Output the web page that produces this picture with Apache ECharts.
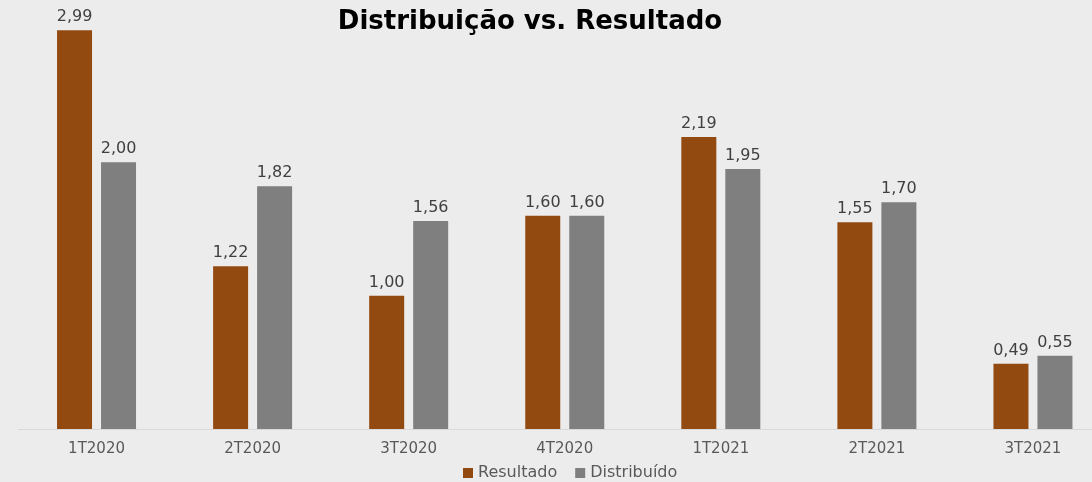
<!DOCTYPE html>
<html>
<head>
<meta charset="utf-8">
<script src="https://cdn.jsdelivr.net/npm/echarts@6/dist/echarts.min.js"></script>
<style>
  html, body { margin: 0; padding: 0; background: #ececec; overflow: hidden; }
  /* a última categoria ultrapassa a borda direita, como no original */
  #chart { width: 1111px; height: 482px; }
</style>
</head>
<body>
<div id="chart"></div>
<script>
// categorias e valores (R$ por ação)
const categorias = ['1T2020', '2T2020', '3T2020', '4T2020', '1T2021', '2T2021', '3T2021'];
const resultado = [2.99, 1.22, 1.00, 1.60, 2.19, 1.55, 0.49];
const distribuido = [2.00, 1.82, 1.56, 1.60, 1.95, 1.70, 0.55];

const fonte = '"DejaVu Sans", sans-serif';

// rótulo com vírgula decimal
function rotulo(p) {
    return p.value.toFixed(2).replace('.', ',');
}

const chart = echarts.init(document.getElementById('chart'));

chart.setOption({
    backgroundColor: '#ececec',
    animation: false,
    title: {
        text: 'Distribuição vs. Resultado',
        left: 525,
        textAlign: 'center',
        top: 4,
        textStyle: { fontFamily: fonte, fontSize: 26, fontWeight: 'bold', color: '#000' }
    },
    legend: {
        top: 460,
        left: 458,
        itemWidth: 10,
        itemHeight: 10,
        itemGap: 18,
        icon: 'rect',
        textStyle: { fontFamily: fonte, fontSize: 16, color: '#595959' },
        data: ['Resultado', 'Distribuído']
    },
    grid: { left: 18.5, right: 0, top: 29, bottom: 53 },
    xAxis: {
        type: 'category',
        data: categorias,
        axisLine: { lineStyle: { color: '#d9d9d9', width: 1 } },
        axisTick: { show: false },
        axisLabel: { fontFamily: fonte, fontSize: 15, color: '#595959', margin: 13 }
    },
    yAxis: {
        type: 'value',
        min: 0,
        max: 3,
        show: false
    },
    series: [
        {
            name: 'Resultado',
            type: 'bar',
            data: resultado,
            barWidth: 35,
            barGap: '25.7%',
            itemStyle: { color: '#934a10' },
            label: {
                show: true, position: 'top', distance: 5, formatter: rotulo,
                fontFamily: fonte, fontSize: 16, color: '#404040'
            }
        },
        {
            name: 'Distribuído',
            type: 'bar',
            data: distribuido,
            barWidth: 35,
            itemStyle: { color: '#7f7f7f' },
            label: {
                show: true, position: 'top', distance: 5, formatter: rotulo,
                fontFamily: fonte, fontSize: 16, color: '#404040'
            }
        }
    ]
});
</script>
</body>
</html>
